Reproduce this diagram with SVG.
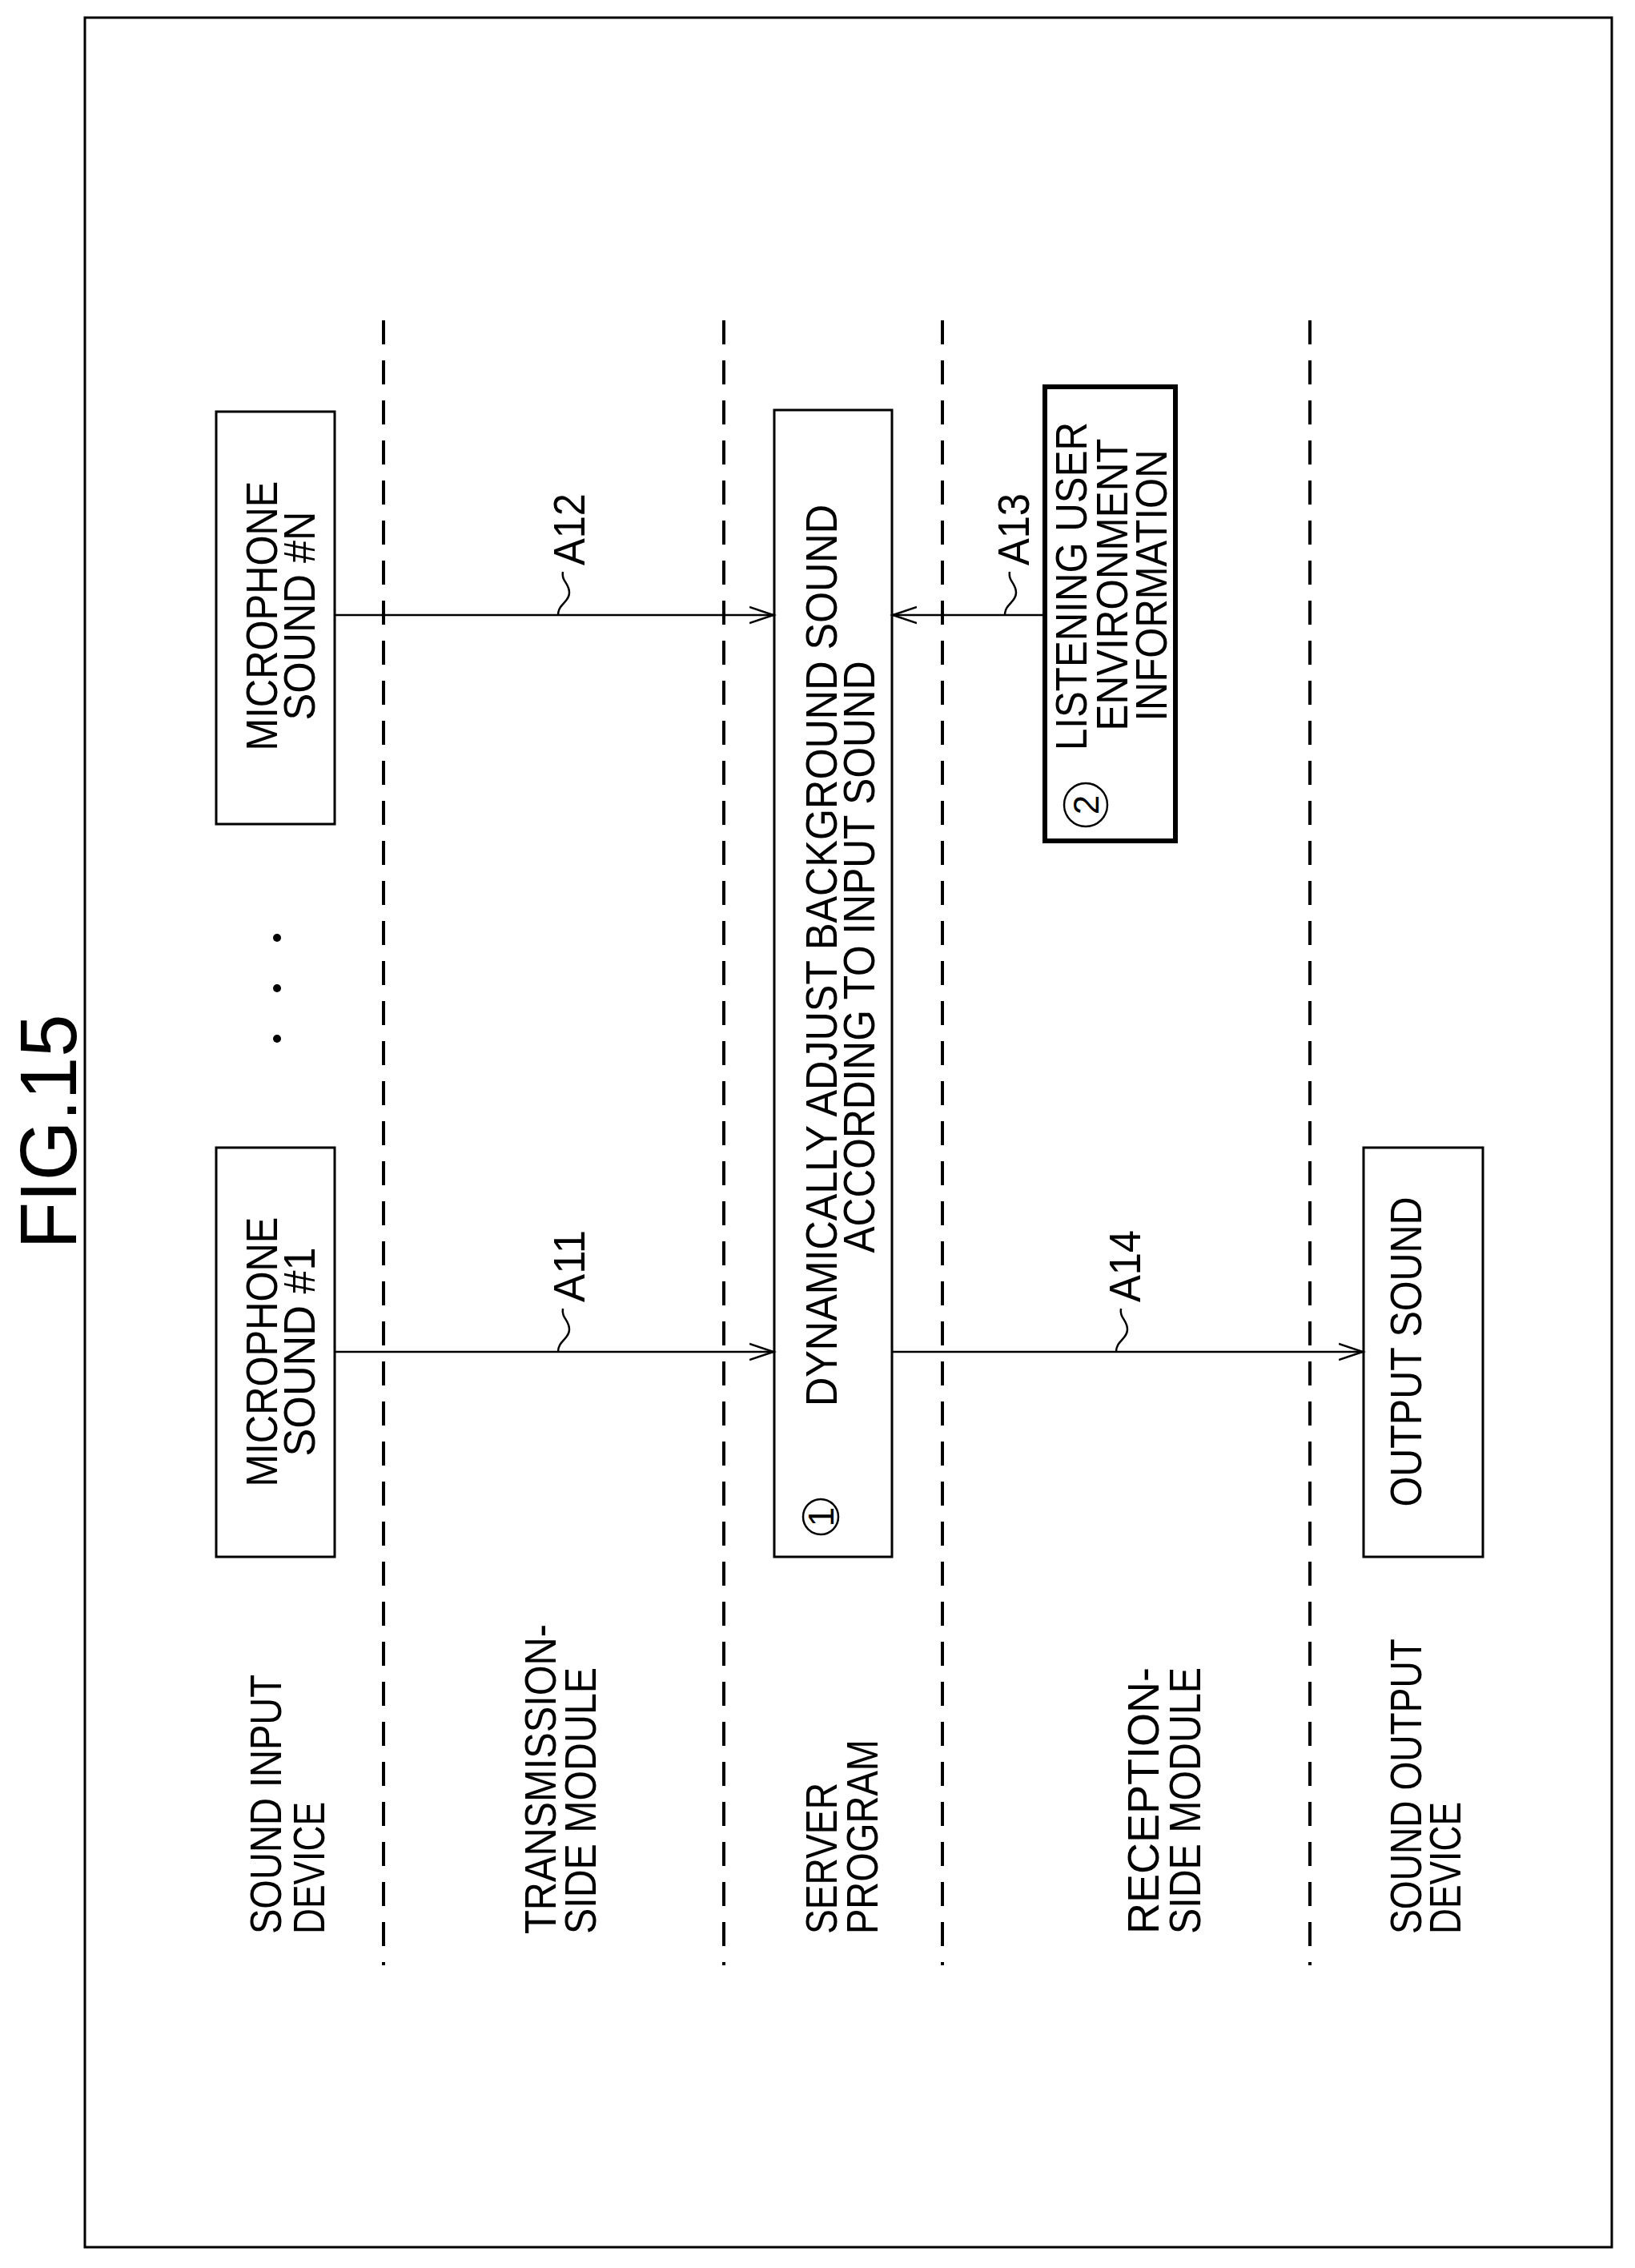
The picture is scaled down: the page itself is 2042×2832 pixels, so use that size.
<svg xmlns="http://www.w3.org/2000/svg" width="2042" height="2832" viewBox="0 0 2042 2832">
<style>
text{font-family:"Liberation Sans",Arial,sans-serif;font-size:56px;fill:#000}
.m{text-anchor:middle}
.box{fill:#fff;stroke:#000;stroke-width:3}
.dash{stroke:#000;stroke-width:4;stroke-dasharray:30 20;fill:none}
.ln{stroke:#000;stroke-width:2.5;fill:none}
</style>
<defs>
<marker id="ah" markerUnits="userSpaceOnUse" markerWidth="40" markerHeight="30" refX="30" refY="12" orient="auto">
<path d="M0,2 L30,12 L0,22" fill="none" stroke="#000" stroke-width="2.5"/>
</marker>
</defs>
<rect width="2042" height="2832" fill="#fff"/>
<rect x="106" y="22" width="1907" height="2784" fill="none" stroke="#000" stroke-width="3"/>
<text transform="translate(95,1413) rotate(-90)" class="m" style="font-size:100px" textLength="293" lengthAdjust="spacingAndGlyphs">FIG.15</text>
<g id="lanes">
<line class="dash" x1="479" y1="400" x2="479" y2="2454"/>
<line class="dash" x1="904" y1="400" x2="904" y2="2454"/>
<line class="dash" x1="1177" y1="400" x2="1177" y2="2454"/>
<line class="dash" x1="1636" y1="400" x2="1636" y2="2454"/>
<g transform="rotate(-90)">
<text x="-2415" y="351" textLength="324" lengthAdjust="spacingAndGlyphs">SOUND INPUT</text>
<text x="-2415" y="405" textLength="165" lengthAdjust="spacingAndGlyphs">DEVICE</text>
<text x="-2415" y="694" textLength="387" lengthAdjust="spacingAndGlyphs">TRANSMISSION-</text>
<text x="-2415" y="744" textLength="333" lengthAdjust="spacingAndGlyphs">SIDE MODULE</text>
<text x="-2415" y="1045" textLength="189" lengthAdjust="spacingAndGlyphs">SERVER</text>
<text x="-2415" y="1096" textLength="243" lengthAdjust="spacingAndGlyphs">PROGRAM</text>
<text x="-2415" y="1447" textLength="333" lengthAdjust="spacingAndGlyphs">RECEPTION-</text>
<text x="-2415" y="1499" textLength="333" lengthAdjust="spacingAndGlyphs">SIDE MODULE</text>
<text x="-2415" y="1775" textLength="369" lengthAdjust="spacingAndGlyphs">SOUND OUTPUT</text>
<text x="-2415" y="1824" textLength="165" lengthAdjust="spacingAndGlyphs">DEVICE</text>
</g>
</g>
<g id="dots" fill="#000"><circle cx="346" cy="1171" r="5"/><circle cx="346" cy="1234" r="5"/><circle cx="346" cy="1297" r="5"/></g>
<g id="micN"><rect class="box" x="270" y="514" width="148" height="515"/>
<g transform="rotate(-90)"><text class="m" x="-769" y="346" textLength="337" lengthAdjust="spacingAndGlyphs">MICROPHONE</text><text class="m" x="-769" y="393" textLength="261" lengthAdjust="spacingAndGlyphs">SOUND #N</text></g></g>
<g id="mic1"><rect class="box" x="270" y="1433" width="148" height="511"/>
<g transform="rotate(-90)"><text class="m" x="-1688" y="346" textLength="337" lengthAdjust="spacingAndGlyphs">MICROPHONE</text><text class="m" x="-1688" y="393" textLength="261" lengthAdjust="spacingAndGlyphs">SOUND #1</text></g></g>
<g id="server"><rect class="box" x="967" y="512" width="147" height="1432"/>
<g transform="rotate(-90)"><text class="m" x="-1193" y="1045" textLength="1126" lengthAdjust="spacingAndGlyphs">DYNAMICALLY ADJUST BACKGROUND SOUND</text><text class="m" x="-1195" y="1092" textLength="739" lengthAdjust="spacingAndGlyphs">ACCORDING TO INPUT SOUND</text>
<text class="m" x="-1894" y="1041" style="font-size:44px">1</text></g>
<circle cx="1025" cy="1894" r="22" fill="none" stroke="#000" stroke-width="2.5"/></g>
<g id="listening"><rect x="1305" y="483" width="163" height="567" fill="#fff" stroke="#000" stroke-width="6"/>
<g transform="rotate(-90)"><text class="m" x="-732" y="1357" textLength="410" lengthAdjust="spacingAndGlyphs">LISTENING USER</text><text class="m" x="-730" y="1408" textLength="365" lengthAdjust="spacingAndGlyphs">ENVIRONMENT</text><text class="m" x="-731" y="1457" textLength="339" lengthAdjust="spacingAndGlyphs">INFORMATION</text>
<text class="m" x="-1005" y="1372" style="font-size:44px">2</text></g>
<circle cx="1356" cy="1005" r="27" fill="none" stroke="#000" stroke-width="2.5"/></g>
<g id="output"><rect class="box" x="1703" y="1433" width="149" height="511"/>
<g transform="rotate(-90)"><text class="m" x="-1688" y="1775" textLength="387" lengthAdjust="spacingAndGlyphs">OUTPUT SOUND</text></g></g>
<g id="connectors">
<line class="ln" x1="418" y1="768" x2="966" y2="768" marker-end="url(#ah)"/>
<line class="ln" x1="418" y1="1688" x2="966" y2="1688" marker-end="url(#ah)"/>
<line class="ln" x1="1305" y1="768" x2="1115" y2="768" marker-end="url(#ah)"/>
<line class="ln" x1="1114" y1="1688" x2="1702" y2="1688" marker-end="url(#ah)"/>
<path class="ln" d="M697,768 c0,-14 14,-16 14,-28 c0,-12 -10,-14 -8,-26"/>
<path class="ln" d="M697,1688 c0,-14 14,-16 14,-28 c0,-12 -10,-14 -8,-26"/>
<path class="ln" d="M1255,768 c0,-14 14,-16 14,-28 c0,-12 -10,-14 -8,-26"/>
<path class="ln" d="M1394,1688 c0,-14 14,-16 14,-28 c0,-12 -10,-14 -8,-26"/>
<g transform="rotate(-90)">
<text x="-706" y="730" textLength="90" lengthAdjust="spacingAndGlyphs">A12</text>
<text x="-1626" y="730" textLength="90" lengthAdjust="spacingAndGlyphs">A11</text>
<text x="-706" y="1285" textLength="90" lengthAdjust="spacingAndGlyphs">A13</text>
<text x="-1626" y="1424" textLength="90" lengthAdjust="spacingAndGlyphs">A14</text>
</g>
</g>
</svg>
